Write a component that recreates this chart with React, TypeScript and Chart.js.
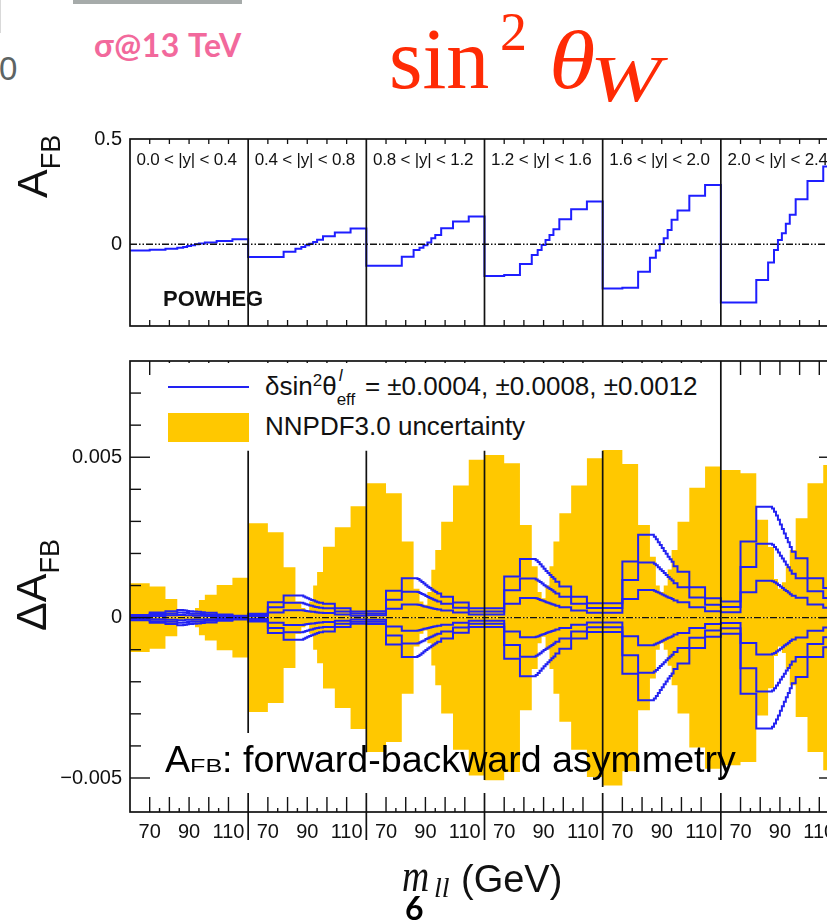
import React, { useEffect, useRef } from 'react';
import { Chart, registerables } from 'chart.js';

Chart.register(...registerables);

// ---------------- data ----------------
const RAPIDITY_BINS = ['0.0 < |y| < 0.4', '0.4 < |y| < 0.8', '0.8 < |y| < 1.2', '1.2 < |y| < 1.6', '1.6 < |y| < 2.0', '2.0 < |y| < 2.4'];
const MASS_MIN = 60;
const MASS_SPAN = 60;
const MASS_EDGES = [60, 70, 78, 84, 87, 89, 91, 93, 95, 98, 104, 112, 120];
const FINE_MASS_EDGES = [60, 70, 78, 84, 86, 87, 88, 89, 90, 91, 92, 93, 94, 95, 96, 98, 104, 112, 120];
const MASS_MAJOR_TICKS = [70, 80, 90, 100, 110];
const MASS_MINOR_TICKS = [75, 85, 95, 105];
const MASS_TICK_LABELS = [70, 90, 110];
const AFB_TICKS = [0, 0.5];
const AFB_TICK_LABELS = ['0', '0.5'];
const DAFB_TICKS = [-0.005, 0, 0.005];
const DAFB_TICK_LABELS = ['\u22120.005', '0', '0.005'];
const DAFB_MINOR_TICKS = [-0.004, -0.003, -0.002, -0.001, 0.001, 0.002, 0.003, 0.004, 0.006, 0.007];

// POWHEG A_FB per rapidity bin (12 mass bins)
const AFB_Y1 = [-0.029, -0.026, -0.021, -0.017, -0.013, -0.008, -0.004, 0.0, 0.004, 0.008, 0.016, 0.024];
const AFB_Y2 = [-0.06, -0.06, -0.036, -0.021, -0.013, -0.005, 0.003, 0.011, 0.022, 0.038, 0.056, 0.075];
const AFB_Y3 = [-0.102, -0.102, -0.059, -0.027, -0.016, -0.005, 0.008, 0.029, 0.044, 0.076, 0.108, 0.132];
const AFB_Y4 = [-0.151, -0.146, -0.094, -0.051, -0.027, -0.003, 0.02, 0.044, 0.071, 0.119, 0.167, 0.203];
const AFB_Y5 = [-0.21, -0.206, -0.13, -0.064, -0.03, 0.001, 0.029, 0.068, 0.116, 0.16, 0.23, 0.282];
const AFB_Y6 = [-0.276, -0.276, -0.17, -0.086, -0.027, 0.02, 0.052, 0.097, 0.14, 0.214, 0.301, 0.37];

// NNPDF3.0 uncertainty on A_FB (units of 1e-3), 12 mass bins
const NNPDF_Y1 = [1.07, 0.97, 0.58, 0.1, 0.05, 0.05, 0.12, 0.3, 0.55, 0.71, 1.02, 1.24];
const NNPDF_Y2 = [2.94, 2.66, 1.57, 0.5, 0.3, 0.2, 0.5, 1.0, 1.42, 2.21, 2.82, 3.47];
const NNPDF_Y3 = [4.19, 3.88, 2.37, 0.9, 0.5, 0.4, 0.8, 1.49, 2.11, 2.99, 4.12, 4.92];
const NNPDF_Y4 = [5.07, 4.81, 2.89, 1.6, 0.8, 0.6, 1.0, 1.6, 2.37, 3.25, 4.12, 4.97];
const NNPDF_Y5 = [5.23, 4.79, 2.89, 1.9, 1.0, 0.8, 1.0, 1.5, 2.11, 2.99, 4.05, 4.71];
const NNPDF_Y6 = [4.6, 4.5, 3.05, 2.2, 1.2, 0.9, 1.1, 1.6, 2.11, 3.1, 4.19, 4.76];

// Delta A_FB for delta sin2theta = 0.0012 (units of 1e-3), fine mass bins
const D12_Y1 = [0.08, 0.16, 0.2, 0.24, 0.24, 0.23, 0.22, 0.21, 0.2, 0.2, 0.19, 0.19, 0.18, 0.18, 0.17, 0.15, 0.1, 0.06];
const D12_Y2 = [0.12, 0.48, 0.69, 0.69, 0.69, 0.69, 0.66, 0.63, 0.6, 0.57, 0.55, 0.53, 0.5, 0.48, 0.46, 0.43, 0.29, 0.19];
const D12_Y3 = [0.2, 0.84, 1.23, 1.23, 1.2, 1.16, 1.11, 1.06, 1.01, 0.96, 0.92, 0.88, 0.84, 0.8, 0.75, 0.65, 0.47, 0.29];
const D12_Y4 = [0.29, 1.28, 1.83, 1.83, 1.79, 1.73, 1.66, 1.59, 1.52, 1.45, 1.39, 1.33, 1.27, 1.21, 1.12, 0.97, 0.65, 0.45];
const D12_Y5 = [0.45, 1.75, 2.58, 2.58, 2.52, 2.44, 2.35, 2.26, 2.17, 2.08, 1.99, 1.9, 1.82, 1.74, 1.6, 1.43, 0.95, 0.6];
const D12_Y6 = [0.5, 2.37, 3.46, 3.46, 3.4, 3.3, 3.18, 3.05, 2.9, 2.76, 2.62, 2.48, 2.35, 2.2, 2.05, 1.85, 1.23, 0.92];

// delta sin2theta = 0.0008
const D08_Y1 = [0.05, 0.11, 0.13, 0.16, 0.16, 0.15, 0.15, 0.14, 0.13, 0.13, 0.13, 0.12, 0.12, 0.12, 0.11, 0.1, 0.07, 0.04];
const D08_Y2 = [0.08, 0.32, 0.46, 0.46, 0.46, 0.46, 0.44, 0.42, 0.4, 0.38, 0.37, 0.35, 0.33, 0.32, 0.31, 0.29, 0.19, 0.13];
const D08_Y3 = [0.13, 0.56, 0.81, 0.81, 0.8, 0.77, 0.74, 0.71, 0.67, 0.64, 0.61, 0.59, 0.56, 0.53, 0.5, 0.43, 0.31, 0.19];
const D08_Y4 = [0.19, 0.85, 1.22, 1.22, 1.19, 1.15, 1.11, 1.06, 1.01, 0.97, 0.93, 0.89, 0.85, 0.81, 0.75, 0.65, 0.43, 0.3];
const D08_Y5 = [0.3, 1.17, 1.72, 1.72, 1.68, 1.63, 1.57, 1.51, 1.45, 1.39, 1.33, 1.27, 1.21, 1.16, 1.07, 0.95, 0.63, 0.4];
const D08_Y6 = [0.33, 1.58, 2.3, 2.3, 2.27, 2.2, 2.12, 2.03, 1.93, 1.84, 1.75, 1.65, 1.57, 1.47, 1.37, 1.23, 0.82, 0.61];

// delta sin2theta = 0.0004
const D04_Y1 = [0.03, 0.05, 0.07, 0.08, 0.08, 0.08, 0.07, 0.07, 0.07, 0.07, 0.06, 0.06, 0.06, 0.06, 0.06, 0.05, 0.03, 0.02];
const D04_Y2 = [0.04, 0.16, 0.23, 0.23, 0.23, 0.23, 0.22, 0.21, 0.2, 0.19, 0.18, 0.18, 0.17, 0.16, 0.15, 0.14, 0.1, 0.06];
const D04_Y3 = [0.07, 0.28, 0.41, 0.41, 0.4, 0.39, 0.37, 0.35, 0.34, 0.32, 0.31, 0.29, 0.28, 0.27, 0.25, 0.22, 0.16, 0.1];
const D04_Y4 = [0.1, 0.43, 0.61, 0.61, 0.6, 0.58, 0.55, 0.53, 0.51, 0.48, 0.46, 0.44, 0.42, 0.4, 0.37, 0.32, 0.22, 0.15];
const D04_Y5 = [0.15, 0.58, 0.86, 0.86, 0.84, 0.81, 0.78, 0.75, 0.72, 0.69, 0.66, 0.63, 0.61, 0.58, 0.53, 0.48, 0.32, 0.2];
const D04_Y6 = [0.17, 0.79, 1.15, 1.15, 1.13, 1.1, 1.06, 1.02, 0.97, 0.92, 0.87, 0.83, 0.78, 0.73, 0.68, 0.62, 0.41, 0.31];

// lower panel bin separators: [from, to] in Delta A_FB
const SEPARATOR_SPANS = [[0.0052, -0.0036], [0.0052, -0.0042], [0.0052, -0.00506], [0.0052, -0.00528], [0.008, -0.00506]];

const AFB_ROWS = [AFB_Y1, AFB_Y2, AFB_Y3, AFB_Y4, AFB_Y5, AFB_Y6];
const NNPDF_ROWS = [NNPDF_Y1, NNPDF_Y2, NNPDF_Y3, NNPDF_Y4, NNPDF_Y5, NNPDF_Y6];
const DELTA_LEVELS = [
  [D04_Y1, D04_Y2, D04_Y3, D04_Y4, D04_Y5, D04_Y6],
  [D08_Y1, D08_Y2, D08_Y3, D08_Y4, D08_Y5, D08_Y6],
  [D12_Y1, D12_Y2, D12_Y3, D12_Y4, D12_Y5, D12_Y6],
];
const E3 = 1e-3;

// ---------------- styles ----------------
const BLUE = '#2222f2';
const YELLOW = '#ffc800';
const INK = '#111';
const SANS = '"Liberation Sans", Arial, Helvetica, sans-serif';
const SERIF = '"Liberation Serif", "Times New Roman", serif';
const RED = '#ff2b05';

function stepPoints(edges: number[], rows: number[][], scale: number) {
  const pts: { x: number; y: number }[] = [];
  rows.forEach((vals, i) => {
    const off = i * MASS_SPAN - MASS_MIN;
    vals.forEach((v, j) => pts.push({ x: off + edges[j], y: v * scale }));
    pts.push({ x: off + edges[edges.length - 1], y: vals[vals.length - 1] * scale });
  });
  return pts;
}

function seg(ctx: CanvasRenderingContext2D, x0: number, y0: number, x1: number, y1: number) {
  ctx.beginPath();
  ctx.moveTo(x0, y0);
  ctx.lineTo(x1, y1);
  ctx.stroke();
}

function labelFor(values: number[], labels: string[], v: number) {
  const k = values.findIndex((t) => Math.abs(t - v) < 1e-9);
  return k >= 0 ? labels[k] : '';
}

const topDecor = {
  id: 'topDecor',
  afterDatasetsDraw(chart: any) {
    const { ctx, chartArea, scales } = chart;
    const { left, right, top, bottom } = chartArea;
    const x = scales.x, y = scales.y;
    ctx.save();
    ctx.strokeStyle = INK;
    ctx.lineWidth = 1.4;
    ctx.setLineDash([7, 2, 1.5, 2, 1.5, 2]);
    const y0 = y.getPixelForValue(0);
    seg(ctx, left, y0, right, y0);
    ctx.setLineDash([]);
    ctx.lineWidth = 1.3;
    for (let i = 0; i < RAPIDITY_BINS.length; i++) {
      MASS_MAJOR_TICKS.forEach((m) => {
        const xp = x.getPixelForValue(i * MASS_SPAN + m - MASS_MIN);
        seg(ctx, xp, top, xp, top + 5);
        seg(ctx, xp, bottom, xp, bottom - 6);
      });
    }
    ctx.lineWidth = 1.7;
    for (let i = 1; i < RAPIDITY_BINS.length; i++) {
      const xp = x.getPixelForValue(i * MASS_SPAN);
      seg(ctx, xp, top, xp, bottom);
    }
    ctx.strokeRect(left, top, right - left, bottom - top);
    ctx.restore();
  },
};

const bottomDecor = {
  id: 'bottomDecor',
  afterDatasetsDraw(chart: any) {
    const { ctx, chartArea, scales } = chart;
    const { left, right, top, bottom } = chartArea;
    const x = scales.x, y = scales.y;
    ctx.save();
    ctx.strokeStyle = INK;
    ctx.lineWidth = 1.4;
    ctx.setLineDash([7, 2, 1.5, 2, 1.5, 2]);
    const y0 = y.getPixelForValue(0);
    seg(ctx, left, y0, right, y0);
    ctx.setLineDash([]);
    ctx.lineWidth = 1.4;
    for (let i = 0; i < RAPIDITY_BINS.length; i++) {
      MASS_MAJOR_TICKS.forEach((m) => {
        const xp = x.getPixelForValue(i * MASS_SPAN + m - MASS_MIN);
        seg(ctx, xp, bottom, xp, bottom - 15);
        seg(ctx, xp, top, xp, top + 14);
      });
      MASS_MINOR_TICKS.forEach((m) => {
        const xp = x.getPixelForValue(i * MASS_SPAN + m - MASS_MIN);
        seg(ctx, xp, bottom, xp, bottom - 4);
      });
    }
    DAFB_TICKS.forEach((v) => {
      const yp = y.getPixelForValue(v);
      seg(ctx, left, yp, left + 20, yp);
      seg(ctx, right, yp, right - 20, yp);
    });
    DAFB_MINOR_TICKS.forEach((v) => {
      const yp = y.getPixelForValue(v);
      seg(ctx, left, yp, left + 11, yp);
      seg(ctx, right, yp, right - 11, yp);
    });
    ctx.lineWidth = 1.7;
    SEPARATOR_SPANS.forEach(([a, b], k) => {
      const xp = x.getPixelForValue((k + 1) * MASS_SPAN);
      seg(ctx, xp, y.getPixelForValue(a), xp, y.getPixelForValue(b));
      seg(ctx, xp, bottom - 19, xp, bottom + 28);
    });
    ctx.strokeRect(left, top, right - left, bottom - top);
    ctx.restore();
  },
};

function topConfig(): any {
  return {
    type: 'line',
    data: {
      datasets: [
        {
          data: stepPoints(MASS_EDGES, AFB_ROWS, 1),
          stepped: true,
          borderColor: '#1e1eff',
          borderWidth: 2,
          pointRadius: 0,
          fill: false,
        },
      ],
    },
    options: {
      animation: false,
      responsive: false,
      devicePixelRatio: 1,
      events: [],
      layout: { padding: { left: 0, right: 11, top: 19, bottom: 24 } },
      plugins: { legend: { display: false }, tooltip: { enabled: false } },
      scales: {
        x: { type: 'linear', display: false, min: 0, max: RAPIDITY_BINS.length * MASS_SPAN },
        y: {
          type: 'linear',
          min: -0.388,
          max: 0.5,
          grid: { display: false, drawTicks: false },
          border: { display: false },
          afterFit: (s: any) => { s.width = 130; s.paddingTop = 0; s.paddingBottom = 0; },
          afterBuildTicks: (s: any) => { s.ticks = AFB_TICKS.map((v) => ({ value: v })); },
          ticks: {
            padding: 8,
            font: { size: 20, family: SANS },
            color: INK,
            callback: (v: number) => labelFor(AFB_TICKS, AFB_TICK_LABELS, v),
          },
        },
      },
    },
    plugins: [topDecor],
  };
}

function bottomConfig(): any {
  const datasets: any[] = [
    { data: stepPoints(MASS_EDGES, NNPDF_ROWS, E3), order: 10 },
    { data: stepPoints(MASS_EDGES, NNPDF_ROWS, -E3), order: 10 },
  ].map((d) => ({
    ...d,
    stepped: true,
    fill: 'origin',
    backgroundColor: YELLOW,
    borderColor: 'rgba(0,0,0,0)',
    borderWidth: 0,
    pointRadius: 0,
  }));
  DELTA_LEVELS.forEach((rows) => {
    [E3, -E3].forEach((sgn) => {
      datasets.push({
        data: stepPoints(FINE_MASS_EDGES, rows, sgn),
        stepped: true,
        fill: false,
        borderColor: BLUE,
        borderWidth: 2,
        pointRadius: 0,
        order: 1,
      });
    });
  });
  const labelPositions: number[] = [];
  for (let i = 0; i < RAPIDITY_BINS.length; i++) {
    MASS_TICK_LABELS.forEach((m) => labelPositions.push(i * MASS_SPAN + m - MASS_MIN));
  }
  return {
    type: 'line',
    data: { datasets },
    options: {
      animation: false,
      responsive: false,
      devicePixelRatio: 1,
      events: [],
      layout: { padding: { left: 0, right: 11, top: 21, bottom: 0 } },
      plugins: { legend: { display: false }, tooltip: { enabled: false } },
      scales: {
        x: {
          type: 'linear',
          min: 0,
          max: RAPIDITY_BINS.length * MASS_SPAN,
          grid: { display: false, drawTicks: false },
          border: { display: false },
          afterFit: (s: any) => { s.height = 109; s.paddingLeft = 0; s.paddingRight = 0; },
          afterBuildTicks: (s: any) => { s.ticks = labelPositions.map((v) => ({ value: v })); },
          ticks: {
            padding: 8,
            autoSkip: false,
            maxRotation: 0,
            minRotation: 0,
            font: { size: 20, family: SANS },
            color: INK,
            callback: (v: number) => String(MASS_MIN + (((v % MASS_SPAN) + MASS_SPAN) % MASS_SPAN)),
          },
        },
        y: {
          type: 'linear',
          min: -0.00606,
          max: 0.008,
          grid: { display: false, drawTicks: false },
          border: { display: false },
          afterFit: (s: any) => { s.width = 130; s.paddingTop = 0; s.paddingBottom = 0; },
          afterBuildTicks: (s: any) => { s.ticks = DAFB_TICKS.map((v) => ({ value: v })); },
          ticks: {
            padding: 8,
            font: { size: 20, family: SANS },
            color: INK,
            callback: (v: number) => labelFor(DAFB_TICKS, DAFB_TICK_LABELS, v),
          },
        },
      },
    },
    plugins: [bottomDecor],
  };
}

const abs = (o: any): React.CSSProperties => ({ position: 'absolute', whiteSpace: 'nowrap', lineHeight: 1, margin: 0, ...o });

export default function App() {
  const topRef = useRef<HTMLCanvasElement>(null);
  const botRef = useRef<HTMLCanvasElement>(null);

  useEffect(() => {
    const c1 = new Chart(topRef.current as HTMLCanvasElement, topConfig());
    const c2 = new Chart(botRef.current as HTMLCanvasElement, bottomConfig());
    return () => {
      c1.destroy();
      c2.destroy();
    };
  }, []);

  return (
    <div style={{ position: 'absolute', left: 0, top: 0, width: 827, height: 921, overflow: 'hidden', background: '#fff', fontFamily: SANS, color: '#111' }}>
      <canvas ref={topRef} width={850} height={230} style={{ position: 'absolute', left: 0, top: 120 }} />
      <canvas ref={botRef} width={850} height={581} style={{ position: 'absolute', left: 0, top: 340 }} />

      {/* slide header */}
      <div style={abs({ left: 0, top: 0, width: 1, height: 33, background: '#d9d9d9' })} />
      <div style={abs({ left: 73, top: 0, width: 169, height: 4, background: '#a6abaa' })} />
      <div style={abs({ left: -1, top: 52, fontSize: 33, color: '#5d6464' })}>0</div>
      <div style={abs({ left: 94, top: 29, fontSize: 32, fontWeight: 700, fontFamily: 'Lato, sans-serif', color: '#f2699c', letterSpacing: 0.5 })}>σ@13 TeV</div>
      <div style={abs({ left: 389, top: 16, fontSize: 86, fontFamily: SERIF, color: RED })}>sin</div>
      <div style={abs({ left: 500, top: 5, fontSize: 54, fontFamily: SERIF, color: RED })}>2</div>
      <div style={abs({ left: 549, top: 20, fontSize: 82, fontFamily: SERIF, fontStyle: 'italic', color: RED, transform: 'scaleX(1.15)', transformOrigin: '0 0' })}>θ</div>
      <div style={abs({ left: 590, top: 46, fontSize: 66, fontFamily: SERIF, fontStyle: 'italic', color: RED, transform: 'scaleX(1.3)', transformOrigin: '0 0' })}>W</div>

      {/* y-axis titles */}
      <div style={abs({ left: 10.6, top: 198, fontSize: 43, transform: 'rotate(-90deg)', transformOrigin: '0 0' })}>
        A<span style={{ fontSize: 27, position: 'relative', top: 13 }}>FB</span>
      </div>
      <div style={abs({ left: 9.6, top: 631, fontSize: 43, transform: 'rotate(-90deg)', transformOrigin: '0 0' })}>
        ΔA<span style={{ fontSize: 27, position: 'relative', top: 13 }}>FB</span>
      </div>

      {/* rapidity labels */}
      {RAPIDITY_BINS.map((t, i) => (
        <div key={t} style={abs({ left: 136.5 + 118.2 * i, top: 151, fontSize: 17, letterSpacing: -0.2 })}>{t}</div>
      ))}
      <div style={abs({ left: 163, top: 288, fontSize: 22, fontWeight: 700 })}>POWHEG</div>

      {/* legend */}
      <div style={abs({ left: 158, top: 363, width: 554, height: 87, background: '#fff' })} />
      <div style={abs({ left: 168, top: 386, width: 81, height: 2, background: BLUE })} />
      <div style={abs({ left: 168, top: 413, width: 81, height: 29, background: YELLOW })} />
      <div style={abs({ left: 265, top: 373, fontSize: 26 })}>
        δsin<span style={{ fontSize: 17, position: 'relative', top: -9 }}>2</span>θ
        <span style={{ display: 'inline-block', position: 'relative', width: 21, height: 0 }}>
          <span style={{ position: 'absolute', left: 2, top: -28, fontSize: 17, lineHeight: 1, fontStyle: 'italic' }}>l</span>
          <span style={{ position: 'absolute', left: 0, top: -4, fontSize: 17, lineHeight: 1 }}>eff</span>
        </span>
        {' = ±0.0004, ±0.0008, ±0.0012'}
      </div>
      <div style={abs({ left: 265, top: 413, fontSize: 26 })}>NNPDF3.0 uncertainty</div>

      {/* annotation */}
      <div style={abs({ left: 165, top: 741, fontSize: 37.6, color: '#000' })}>
        A
        <span style={{ display: 'inline-block', fontSize: 18, transform: 'scaleX(1.4)', transformOrigin: '0 0', width: 32 }}>FB</span>
        : forward-backward asymmetry
      </div>

      {/* x-axis title */}
      <div style={abs({ left: 402, top: 853, fontSize: 46, fontFamily: SERIF, fontStyle: 'italic', transform: 'scaleX(0.82)', transformOrigin: '0 0' })}>m</div>
      <div style={abs({ left: 434, top: 874, fontSize: 28, fontFamily: SERIF, fontStyle: 'italic' })}>ll</div>
      <div style={abs({ left: 461, top: 860, fontSize: 38 })}>(GeV)</div>

      {/* page number */}
      <div style={abs({ left: 405, top: 892, fontSize: 32, fontWeight: 700, fontFamily: 'Lato, sans-serif', color: '#000' })}>6</div>
    </div>
  );
}
